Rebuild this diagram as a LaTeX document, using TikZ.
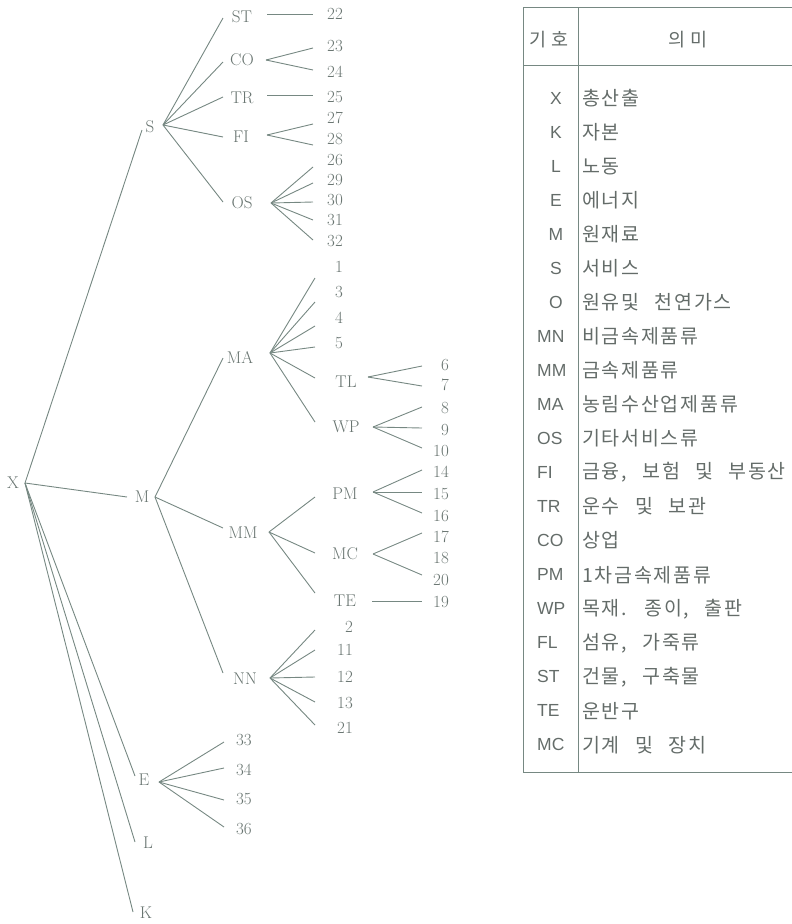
\documentclass[tikz,border=0pt]{standalone}
\usepackage{fontspec}
\newfontfamily\kr{Noto Sans CJK KR}[LetterSpace=9,WordSpace=2.5]
\newfontfamily\krhead{Noto Sans CJK KR}[LetterSpace=25]
\newfontfamily\tsans{Liberation Sans}
\definecolor{lnc}{RGB}{118,136,130}
\definecolor{txc}{RGB}{105,117,113}
\definecolor{tbc}{RGB}{100,108,105}
\begin{document}
\begin{tikzpicture}[x=1pt,y=-1pt,
  tr/.style={text=txc,font=\fontsize{17}{17}\selectfont,inner sep=0pt},
  num/.style={text=txc,font=\fontsize{17}{17}\selectfont,inner sep=0pt,anchor=east},
  ln/.style={draw=lnc,line width=0.9pt},
  tbl/.style={draw=lnc,line width=1pt},
  code/.style={text=tbc,font=\tsans\fontsize{17.5}{17.5}\selectfont,inner sep=0pt},
  mean/.style={text=tbc,font=\kr\fontsize{19.5}{19.5}\selectfont,inner sep=0pt,anchor=west},
  head/.style={text=tbc,font=\krhead\fontsize{18.5}{18.5}\selectfont,inner sep=0pt}]
\useasboundingbox (0,0) rectangle (792,924);

% ---------- tree labels ----------
\node[tr] (X) at (13,483) {X};
\node[tr] (S) at (150,127) {S};
\node[tr] (M) at (142,497) {M};
\node[tr] (E) at (144,780) {E};
\node[tr] (L) at (148,843) {L};
\node[tr] (K) at (146,913) {K};
\node[tr] (ST) at (242,17) {ST};
\node[tr] (CO) at (242,60) {CO};
\node[tr] (TR) at (242,98) {TR};
\node[tr] (FI) at (241,137) {FI};
\node[tr] (OS) at (242,203) {OS};
\node[tr] (MA) at (240,357) {MA};
\node[tr] (MM) at (243,533) {MM};
\node[tr] (NN) at (245,679) {NN};
\node[tr] (TL) at (346,382) {TL};
\node[tr] (WP) at (346,427) {WP};
\node[tr] (PM) at (345,494) {PM};
\node[tr] (MC) at (345,554) {MC};
\node[tr] (TE) at (345,601) {TE};

% ---------- numbers ----------
\foreach \n/\y in {22/14,23/46,24/72,25/97,27/118,28/139,26/160,29/180,30/200,31/220,32/241}
  \node[num] (n\n) at (343,\y) {\n};
\foreach \n/\y in {1/267,3/292,4/318,5/343}
  \node[num] (n\n) at (343,\y) {\n};
\foreach \n/\y in {6/365,7/385,8/408,9/430,10/451,14/472,15/494,16/516,17/537,18/558,20/580,19/602}
  \node[num] (n\n) at (449,\y) {\n};
\foreach \n/\y in {2/627,11/650,12/677,13/703,21/728}
  \node[num] (n\n) at (353,\y) {\n};
\foreach \n/\y in {33/740,34/770,35/799,36/829}
  \node[num] (n\n) at (252,\y) {\n};

% ---------- connector end points ----------
\coordinate (Xo) at (25,483);
\coordinate (Si) at (142,130);  \coordinate (So) at (163,125);
\coordinate (Mi) at (127,497);  \coordinate (Mo) at (155,497);
\coordinate (Ei) at (135,776);  \coordinate (Eo) at (159,782);
\coordinate (Li) at (135,842);
\coordinate (Ki) at (133,912);
\coordinate (STi) at (223,18);  \coordinate (STo) at (267,14);
\coordinate (COi) at (223,62);  \coordinate (COo) at (266,60);
\coordinate (TRi) at (223,97);  \coordinate (TRo) at (267,95);
\coordinate (FIi) at (223,137); \coordinate (FIo) at (267,135);
\coordinate (OSi) at (223,202); \coordinate (OSo) at (271,203);
\coordinate (MAi) at (223,358); \coordinate (MAo) at (270,353);
\coordinate (MMi) at (223,528); \coordinate (MMo) at (269,532);
\coordinate (NNi) at (223,673); \coordinate (NNo) at (270,678);
\coordinate (TLi) at (315,378); \coordinate (TLo) at (368,377);
\coordinate (WPi) at (315,422); \coordinate (WPo) at (373,427);
\coordinate (PMi) at (315,497); \coordinate (PMo) at (373,492);
\coordinate (MCi) at (315,553); \coordinate (MCo) at (373,554);
\coordinate (TEi) at (315,593); \coordinate (TEo) at (372,601);
\foreach \n/\y in {22/14,23/48,24/70,25/95,27/124,28/145,26/167,29/183,30/202,31/220,32/240}
  \coordinate (n\n i) at (313,\y);
\foreach \n/\y in {1/278,3/302,4/326,5/347}
  \coordinate (n\n i) at (315,\y);
\foreach \n/\y in {6/366,7/386,8/407,9/428,10/448,14/470,15/492,16/513,17/533,20/575,19/601}
  \coordinate (n\n i) at (422,\y);
\foreach \n/\y in {2/630,11/650,12/677,13/702,21/725}
  \coordinate (n\n i) at (315,\y);
\foreach \n/\y in {33/742,34/768,35/800,36/827}
  \coordinate (n\n i) at (224,\y);

% ---------- connectors ----------
\foreach \a/\b in {Xo/Si,Xo/Mi,Xo/Ei,Xo/Li,Xo/Ki,
  So/STi,So/COi,So/TRi,So/FIi,So/OSi,
  STo/n22i,COo/n23i,COo/n24i,TRo/n25i,FIo/n27i,FIo/n28i,
  OSo/n26i,OSo/n29i,OSo/n30i,OSo/n31i,OSo/n32i,
  Mo/MAi,Mo/MMi,Mo/NNi,
  MAo/n1i,MAo/n3i,MAo/n4i,MAo/n5i,MAo/TLi,MAo/WPi,
  TLo/n6i,TLo/n7i,WPo/n8i,WPo/n9i,WPo/n10i,
  MMo/PMi,MMo/MCi,MMo/TEi,
  PMo/n14i,PMo/n15i,PMo/n16i,MCo/n17i,MCo/n20i,TEo/n19i,
  NNo/n2i,NNo/n11i,NNo/n12i,NNo/n13i,NNo/n21i,
  Eo/n33i,Eo/n34i,Eo/n35i,Eo/n36i}
  \draw[ln] (\a) -- (\b);

% ---------- table ----------
\coordinate (tTL) at (523,7);   \coordinate (tTR) at (792,7);
\coordinate (tHL) at (523,65);  \coordinate (tHR) at (792,65);
\coordinate (tBL) at (523,772); \coordinate (tBR) at (792,772);
\coordinate (tDT) at (578,7);   \coordinate (tDB) at (578,772);
\draw[tbl] (tTL) -- (tTR);
\draw[tbl] (tHL) -- (tHR);
\draw[tbl] (tBL) -- (tBR);
\draw[tbl] (tTL) -- (tBL);
\draw[tbl] (tDT) -- (tDB);

\node[head] (h1) at (549,40) {기호};
\node[head] (h2) at (688,40) {의미};

\foreach \c/\m [count=\i from 0] in {X/총산출,K/자본,L/노동,E/에너지,M/원재료,S/서비스,O/{원유및 천연가스}}{
  \node[code] (code\i) at (556,98+34.05*\i) {\c};
  \node[mean] (mean\i) at (582,98+34.05*\i) {\m};
}
\foreach \c/\m [count=\i from 7] in {MN/비금속제품류,MM/금속제품류,MA/농림수산업제품류,OS/기타서비스류,
  FI/{금융, 보험 및 부동산},TR/{운수 및 보관},CO/상업,PM/1차금속제품류,WP/{목재. 종이, 출판},
  FL/{섬유, 가죽류},ST/{건물, 구축물},TE/운반구,MC/{기계 및 장치}}{
  \node[code,anchor=west] (code\i) at (537,98+34.05*\i) {\c};
  \node[mean] (mean\i) at (582,98+34.05*\i) {\m};
}
\end{tikzpicture}
\end{document}
